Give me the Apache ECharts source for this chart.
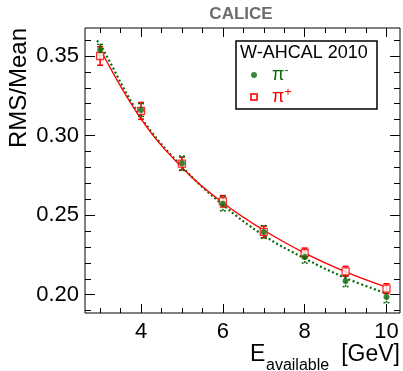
<!DOCTYPE html>
<html>
<head>
<meta charset="utf-8">
<script src="https://cdn.jsdelivr.net/npm/echarts@6/dist/echarts.min.js"></script>
<style>
  html, body { margin: 0; padding: 0; background: #fff; }
  #chart { width: 403px; height: 371px; }
</style>
</head>
<body>
<div id="chart"></div>
<script>
// Beam energies [GeV]
const energies = [3, 4, 5, 6, 7, 8, 9, 10];

// Relative resolution RMS/Mean for negative pions and its uncertainty
const piMinus    = [0.3538, 0.3161, 0.2826, 0.2572, 0.2394, 0.2237, 0.2086, 0.1985];
const piMinusErr = [0.0035, 0.0040, 0.0045, 0.0045, 0.0040, 0.0038, 0.0035, 0.0035];

// Relative resolution RMS/Mean for positive pions and its uncertainty
const piPlus     = [0.3500, 0.3155, 0.2824, 0.2587, 0.2395, 0.2262, 0.2147, 0.2038];
const piPlusErr  = [0.0058, 0.0053, 0.0040, 0.0036, 0.0036, 0.0031, 0.0031, 0.0031];

// Fitted resolution curves
const fitMinusE = [2.92, 3, 4, 5, 6, 7, 8, 9, 10];
const fitMinus  = [0.3596, 0.3574, 0.3115, 0.2805, 0.2565, 0.2372, 0.2228, 0.2105, 0.2008];
const fitPlusE  = [3, 4, 5, 6, 7, 8, 9, 10];
const fitPlus   = [0.3544, 0.3105, 0.2800, 0.2578, 0.2405, 0.2262, 0.2144, 0.2048];

// Axis ticks
const xMajorTicks = [4, 6, 8, 10];
const xMinorTicks = [3, 3.5, 4.5, 5, 5.5, 6.5, 7, 7.5, 8.5, 9, 9.5];
const yMajorTicks = [0.20, 0.25, 0.30, 0.35];
const yMinorTicks = [0.19, 0.21, 0.22, 0.23, 0.24, 0.26, 0.27, 0.28, 0.29, 0.31, 0.32, 0.33, 0.34, 0.36];

const X_MIN = 2.63, X_MAX = 10.33;
const Y_MIN = 0.1885, Y_MAX = 0.3676;

const GREEN = '#0a690a';
const RED = '#ff0000';
const FONT = '"Liberation Sans", Arial, Helvetica, sans-serif';

const chart = echarts.init(document.getElementById('chart'), null, { renderer: 'canvas' });

function xAxisDef(position, ticks, len, labels) {
  return {
    type: 'value', position: position, min: X_MIN, max: X_MAX,
    axisLine: { show: false },
    splitLine: { show: false },
    axisTick: { show: true, inside: true, length: len, customValues: ticks,
                lineStyle: { color: '#000', width: 1 } },
    axisLabel: labels ? {
      show: true, customValues: ticks, margin: 8, color: '#000',
      fontSize: 22, fontFamily: FONT, formatter: v => String(v)
    } : { show: false }
  };
}

function yAxisDef(position, ticks, len, labels) {
  return {
    type: 'value', position: position, min: Y_MIN, max: Y_MAX,
    axisLine: { show: false },
    splitLine: { show: false },
    axisTick: { show: true, inside: true, length: len, customValues: ticks,
                lineStyle: { color: '#000', width: 1 } },
    axisLabel: labels ? {
      show: true, customValues: ticks, margin: 6, color: '#000',
      fontSize: 22, fontFamily: FONT, formatter: v => v.toFixed(2)
    } : { show: false }
  };
}

function errorBars(vals, errs, color, dashed) {
  return {
    type: 'custom',
    xAxisIndex: 0, yAxisIndex: 0,
    silent: true,
    z: 3,
    encode: { x: 0, y: [1, 2] },
    data: energies.map((e, i) => [e, vals[i] - errs[i], vals[i] + errs[i]]),
    renderItem: function (params, api) {
      const lo = api.coord([api.value(0), api.value(1)]);
      const hi = api.coord([api.value(0), api.value(2)]);
      const style = { stroke: color, lineWidth: 1.5, lineDash: dashed ? [2, 2] : null };
      const half = 3;
      return {
        type: 'group',
        children: [
          { type: 'line', shape: { x1: lo[0], y1: lo[1], x2: hi[0], y2: hi[1] }, style: style },
          { type: 'line', shape: { x1: lo[0] - half, y1: lo[1], x2: lo[0] + half, y2: lo[1] }, style: style },
          { type: 'line', shape: { x1: hi[0] - half, y1: hi[1], x2: hi[0] + half, y2: hi[1] }, style: style }
        ]
      };
    }
  };
}

const legendRich = {
  g:  { color: GREEN, fontSize: 18, fontFamily: FONT, lineHeight: 20, padding: [0, 0, 0, 10] },
  gs: { color: GREEN, fontSize: 12, fontFamily: FONT, verticalAlign: 'top', lineHeight: 20 },
  r:  { color: RED, fontSize: 18, fontFamily: FONT, lineHeight: 20, padding: [0, 0, 0, 10] },
  rs: { color: RED, fontSize: 12, fontFamily: FONT, verticalAlign: 'top', lineHeight: 20 }
};

chart.setOption({
  animation: false,
  backgroundColor: '#fff',
  grid: {
    left: 85, right: 3, top: 28, bottom: 58,
    show: true, borderColor: '#000', borderWidth: 1, backgroundColor: 'transparent'
  },
  xAxis: [
    xAxisDef('bottom', xMajorTicks, 9, true),
    xAxisDef('bottom', xMinorTicks, 5, false),
    xAxisDef('top', xMajorTicks, 9, false),
    xAxisDef('top', xMinorTicks, 5, false)
  ],
  yAxis: [
    yAxisDef('left', yMajorTicks, 10, true),
    yAxisDef('left', yMinorTicks, 6, false),
    yAxisDef('right', yMajorTicks, 10, false),
    yAxisDef('right', yMinorTicks, 6, false)
  ],
  legend: {
    orient: 'vertical',
    left: 250, top: 65, padding: 0,
    itemWidth: 6, itemHeight: 6, itemGap: 3,
    z: 10,
    selectedMode: false,
    data: [{ name: 'π-', icon: 'circle' }, { name: 'π+', icon: 'rect' }],
    formatter: name => name === 'π-' ? '{g|π}{gs|-}' : '{r|π}{rs|+}',
    textStyle: { rich: legendRich }
  },
  graphic: [
    {
      type: 'text', x: 241, y: 14.5, z: 10,
      style: { text: 'CALICE', fill: '#6d6d6d', font: 'bold 17px ' + FONT,
               textAlign: 'center', textVerticalAlign: 'middle' }
    },
    {
      type: 'text', x: 19, y: 28, rotation: Math.PI / 2, z: 10,
      style: { text: 'RMS/Mean', fill: '#000', font: '24px ' + FONT,
               textAlign: 'right', textVerticalAlign: 'middle' }
    },
    {
      type: 'group', z: 10,
      children: [
        { type: 'text', x: 250, y: 366,
          style: { text: 'E', fill: '#000', font: '23px ' + FONT, textAlign: 'left', textVerticalAlign: 'bottom' } },
        { type: 'text', x: 266, y: 374,
          style: { text: 'available', fill: '#000', font: '16px ' + FONT, textAlign: 'left', textVerticalAlign: 'bottom' } },
        { type: 'text', x: 400, y: 366,
          style: { text: '[GeV]', fill: '#000', font: '23px ' + FONT, textAlign: 'right', textVerticalAlign: 'bottom' } }
      ]
    },
    {
      type: 'rect', z: 5,
      shape: { x: 236, y: 41, width: 141, height: 68 },
      style: { fill: '#fff', stroke: '#000', lineWidth: 1.5 }
    },
    {
      type: 'text', x: 240, y: 53.5, z: 10,
      style: { text: 'W-AHCAL 2010', fill: '#000', font: '18px ' + FONT,
               textAlign: 'left', textVerticalAlign: 'middle' }
    }
  ],
  series: [
    {
      name: 'fit π-', type: 'line', xAxisIndex: 0, yAxisIndex: 0,
      data: fitMinusE.map((e, i) => [e, fitMinus[i]]),
      smooth: 0.4, showSymbol: false, silent: true, z: 2,
      lineStyle: { color: GREEN, width: 2.2, type: [2, 2.5] }
    },
    {
      name: 'fit π+', type: 'line', xAxisIndex: 0, yAxisIndex: 0,
      data: fitPlusE.map((e, i) => [e, fitPlus[i]]),
      smooth: 0.4, showSymbol: false, silent: true, z: 2,
      lineStyle: { color: RED, width: 1.4 }
    },
    errorBars(piPlus, piPlusErr, RED, false),
    errorBars(piMinus, piMinusErr, GREEN, true),
    {
      name: 'π+', type: 'scatter', xAxisIndex: 0, yAxisIndex: 0, z: 4,
      symbol: 'rect', symbolSize: 7,
      itemStyle: { color: '#fff', borderColor: RED, borderWidth: 1.3 },
      data: energies.map((e, i) => [e, piPlus[i]])
    },
    {
      name: 'π-', type: 'scatter', xAxisIndex: 0, yAxisIndex: 0, z: 5,
      symbol: 'circle', symbolSize: 6,
      itemStyle: { color: GREEN },
      data: energies.map((e, i) => [e, piMinus[i]])
    }
  ]
});
</script>
</body>
</html>
